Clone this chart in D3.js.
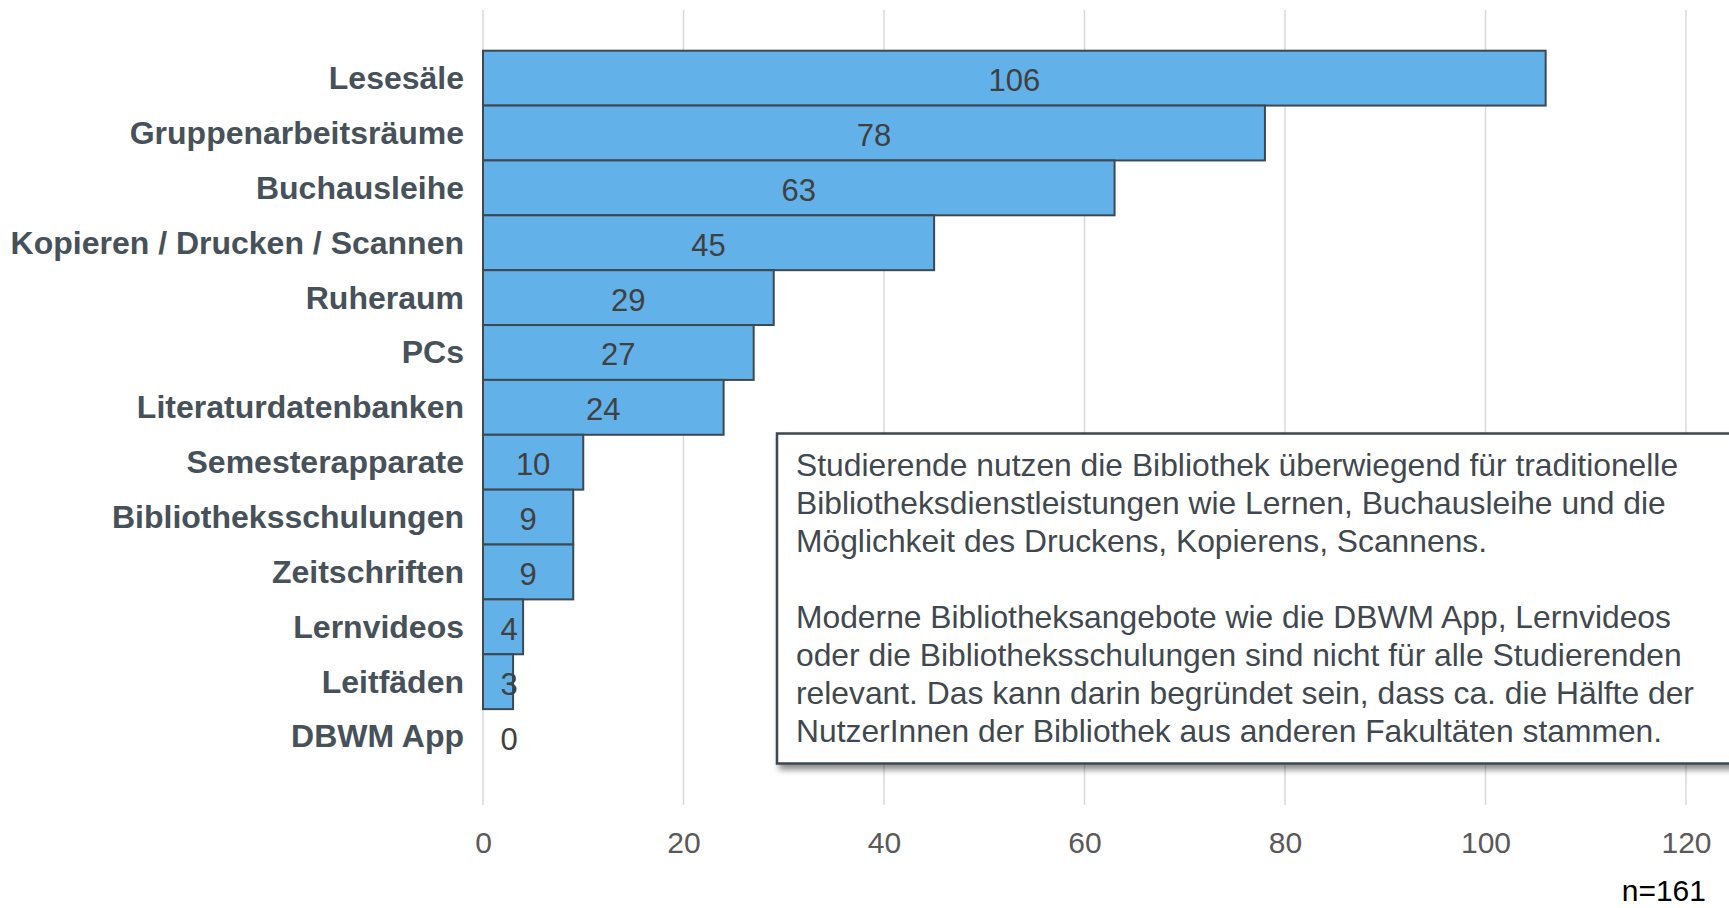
<!DOCTYPE html>
<html>
<head>
<meta charset="utf-8">
<script src="https://cdn.jsdelivr.net/npm/d3@7"></script>
<style>
  html, body { margin: 0; padding: 0; background: #fff; overflow: hidden; }
  svg { display: block; font-family: "Liberation Sans", Arial, sans-serif; }
</style>
</head>
<body>
<svg id="chart" width="1729" height="908"></svg>
<script>
const categories = ["Lesesäle", "Gruppenarbeitsräume", "Buchausleihe", "Kopieren / Drucken / Scannen",
  "Ruheraum", "PCs", "Literaturdatenbanken", "Semesterapparate", "Bibliotheksschulungen",
  "Zeitschriften", "Lernvideos", "Leitfäden", "DBWM App"];
const values = [106, 78, 63, 45, 29, 27, 24, 10, 9, 9, 4, 3, 0];
const xTicks = [0, 20, 40, 60, 80, 100, 120];
const xDomain = [0, 120];
const noteLines = [
  "Studierende nutzen die Bibliothek überwiegend für traditionelle",
  "Bibliotheksdienstleistungen wie Lernen, Buchausleihe und die",
  "Möglichkeit des Druckens, Kopierens, Scannens.",
  "",
  "Moderne Bibliotheksangebote wie die DBWM App, Lernvideos",
  "oder die Bibliotheksschulungen sind nicht für alle Studierenden",
  "relevant. Das kann darin begründet sein, dass ca. die Hälfte der",
  "NutzerInnen der Bibliothek aus anderen Fakultäten stammen."
];
const sampleNote = "n=161";

const data = categories.map((c, i) => ({ cat: c, val: values[i] }));

const svg = d3.select("#chart");
const x = d3.scaleLinear().domain(xDomain).range([483, 1686]);
const y = d3.scaleBand().domain(categories).range([50.7, 764]).padding(0);

// gridlines
svg.append("g").selectAll("line").data(xTicks).join("line")
  .attr("x1", d => x(d)).attr("x2", d => x(d))
  .attr("y1", 10).attr("y2", 805)
  .attr("stroke", "#d9d9d9").attr("stroke-width", 1.5);

// x tick labels
const xAxis = d3.axisBottom(x).tickValues(xTicks).tickSize(0).tickPadding(0);
const gx = svg.append("g").attr("transform", "translate(0,832)").call(xAxis);
gx.select(".domain").remove();
gx.selectAll("text")
  .attr("font-size", 30).attr("fill", "#595959")
  .attr("font-family", "Liberation Sans, Arial, sans-serif")
  .attr("dy", "0.716em").attr("y", 0);

// bars
svg.append("g").selectAll("rect").data(data.filter(d => d.val > 0)).join("rect")
  .attr("x", x(0))
  .attr("y", d => y(d.cat))
  .attr("width", d => x(d.val) - x(0))
  .attr("height", y.bandwidth())
  .attr("fill", "#62b1e8")
  .attr("stroke", "#3d4850")
  .attr("stroke-width", 2);

// category labels
const yAxis = d3.axisLeft(y).tickSize(0).tickPadding(19);
const gy = svg.append("g").attr("transform", `translate(${x(0)},0)`).call(yAxis);
gy.select(".domain").remove();
gy.selectAll("text")
  .attr("font-size", 32).attr("font-weight", "bold").attr("fill", "#46515a")
  .attr("font-family", "Liberation Sans, Arial, sans-serif")
  .attr("dy", "0.34em");

// value labels
svg.append("g").selectAll("text").data(data).join("text")
  .attr("x", d => Math.max(x(d.val / 2), x(0) + 26))
  .attr("y", d => y(d.cat) + y.bandwidth() / 2 + 13)
  .attr("text-anchor", "middle")
  .attr("font-size", 31)
  .attr("fill", "#404040")
  .text(d => d.val);

// note box with shadow
const defs = svg.append("defs");
const f = defs.append("filter").attr("id", "shadow").attr("x", "-5%").attr("y", "-5%").attr("width", "115%").attr("height", "120%");
f.append("feGaussianBlur").attr("in", "SourceAlpha").attr("stdDeviation", 3);
f.append("feOffset").attr("dx", 3).attr("dy", 5).attr("result", "ob");
f.append("feComponentTransfer").append("feFuncA").attr("type", "linear").attr("slope", 0.45);
const m = f.append("feMerge");
m.append("feMergeNode");
m.append("feMergeNode").attr("in", "SourceGraphic");

svg.append("rect")
  .attr("x", 777).attr("y", 433.5).attr("width", 1000).attr("height", 330)
  .attr("fill", "#fff").attr("stroke", "#3d4850").attr("stroke-width", 2.5)
  .attr("filter", "url(#shadow)");

svg.append("g").selectAll("text").data(noteLines).join("text")
  .attr("x", 796)
  .attr("y", (d, i) => 476 + i * 38)
  .attr("font-size", 31.8)
  .attr("fill", "#3f484f")
  .text(d => d);

svg.append("text")
  .attr("x", 1706).attr("y", 901)
  .attr("text-anchor", "end")
  .attr("font-size", 30).attr("fill", "#000")
  .text(sampleNote);
</script>
</body>
</html>
